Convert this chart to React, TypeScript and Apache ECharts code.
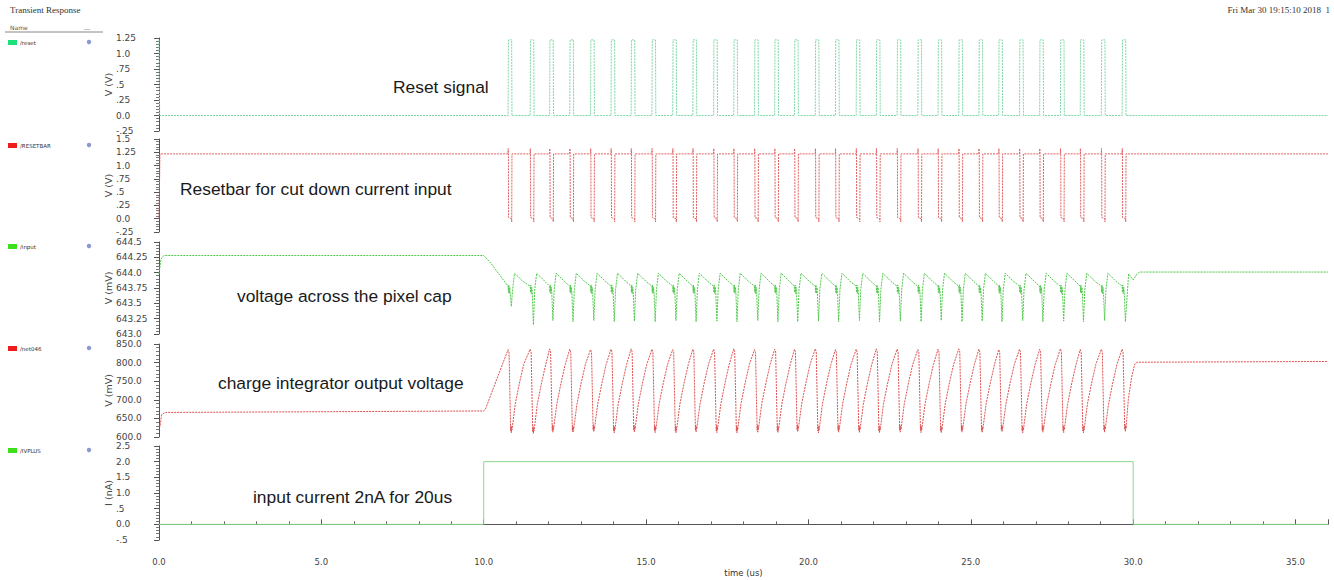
import React, { useEffect, useRef } from "react";
import * as echarts from "echarts";

// ---------- data (times in us) ----------
const pulseStarts = [
  10.75, 11.43, 12.03, 12.65, 13.29, 13.92, 14.54, 15.18, 15.82, 16.44,
  17.08, 17.70, 18.34, 18.96, 19.57, 20.21, 20.83, 21.47, 22.09, 22.73,
  23.37, 23.99, 24.63, 25.25, 25.86, 26.50, 27.12, 27.76, 28.37, 29.02, 29.66,
];
const pulseWidth = 0.12;
const logicHigh = 1.22;
const resetbarOvershoot = 1.32;
const resetbarUndershoot = -0.06;

const inputDips = [
  643.45, 643.15, 643.22, 643.2, 643.22, 643.2, 643.21, 643.2, 643.22, 643.2,
  643.21, 643.2, 643.22, 643.2, 643.2, 643.21, 643.2, 643.22, 643.2, 643.21,
  643.2, 643.22, 643.2, 643.21, 643.2, 643.22, 643.2, 643.21, 643.2, 643.22, 643.2,
];
const inputPre = [[0, 643.98], [0.06, 644.22], [0.15, 644.28], [10.0, 644.28], [10.23, 644.15], [10.45, 643.99]];
const inputBeforeDip = [[0, 643.78], [0.01, 643.68], [0.02, 643.8], [0.035, 643.66], [0.05, 643.76], [0.065, 643.68]];
const inputDipOffset = 0.1;
const inputAfterDip = [[0.14, 643.72], [0.2, 643.99], [0.32, 643.93], [0.45, 643.86]];
const inputTail = [[29.86, 643.98], [30.0, 643.88], [30.12, 643.98], [30.2, 644.01], [36, 644.01]];

const integPeaks = [
  835, 836, 837, 836, 835, 836, 837, 836, 835, 836,
  836, 837, 835, 836, 836, 837, 835, 836, 837, 836,
  835, 836, 837, 836, 835, 836, 836, 837, 835, 836, 836,
];
const integTroughs = [
  616, 614, 618, 617, 619, 616, 618, 617, 616, 618,
  617, 616, 618, 617, 619, 616, 618, 617, 616, 618,
  617, 616, 618, 617, 619, 616, 618, 617, 616, 618, 620,
];
const integPre = [[0, 632], [0.03, 628], [0.08, 660], [0.2, 666], [10.0, 670], [10.05, 674], [10.4, 755]];
const integFallOffset = 0.08;
const integTroughNoise = [[0.09, 14], [0.1, -5], [0.11, 10], [0.12, 3]];
const integRamp = [[0.22, 688], [0.35, 745], [0.48, 795]];
const integTail = [[29.85, 700], [29.95, 760], [30.05, 796], [30.12, 801], [36, 803]];

const currentData = [[0, 0], [10, 0], [10, 2], [30, 2], [30, 0], [36, 0]];

const panelNames = ["V (V)", "V (V)", "V (mV)", "V (mV)", "I (nA)"];
const yMins = [-0.25, -0.25, 643.0, 600, -0.5];
const yMaxs = [1.25, 1.5, 644.5, 850, 2.5];
const yIntervals = [0.25, 0.25, 0.25, 50, 0.5];

const legendNames = ["/reset", "/RESETBAR", "/input", "/net046", "/IVPLUS"];
const legendColors = ["#1ee07a", "#ee1c1c", "#3ee01e", "#ee1c1c", "#3ee01e"];
const traceColors = ["#7fd6a6", "#e06060", "#4fc84a", "#de5050", "#8ed98e"];

const annotations = [
  "Reset signal",
  "Resetbar for cut down current input",
  "voltage across the pixel cap",
  "charge integrator output voltage",
  "input current 2nA for 20us",
];

// ---------- layout ----------
const gridTops = [38, 139, 242, 344, 446];
const gridHeights = [93, 93, 92, 93, 94];
const legendY = [43, 146, 247, 349, 451];
const annotX = [393, 180, 237, 218, 253];
const annotY = [87, 189, 296, 383, 497];

function buildReset() {
  const d: number[][] = [[0, logicHigh], [0.02, 0]];
  pulseStarts.forEach((t) => {
    d.push([t, 0], [t + 0.01, logicHigh], [t + pulseWidth - 0.01, logicHigh], [t + pulseWidth, 0]);
  });
  d.push([36, 0]);
  return d;
}

function buildResetbar() {
  const d: number[][] = [[0, 0], [0.03, logicHigh]];
  pulseStarts.forEach((t) => {
    d.push(
      [t, logicHigh], [t + 0.004, resetbarOvershoot], [t + 0.01, logicHigh], [t + 0.015, 0.02],
      [t + pulseWidth - 0.015, 0], [t + pulseWidth - 0.008, resetbarUndershoot], [t + pulseWidth, logicHigh]
    );
  });
  d.push([36, logicHigh]);
  return d;
}

function buildInput() {
  const d: number[][] = inputPre.map((p) => [p[0], p[1]]);
  pulseStarts.forEach((t, i) => {
    inputBeforeDip.forEach((p) => d.push([t + p[0], p[1]]));
    d.push([t + inputDipOffset, inputDips[i]]);
    if (i < pulseStarts.length - 1) inputAfterDip.forEach((p) => d.push([t + p[0], p[1]]));
  });
  inputTail.forEach((p) => d.push([p[0], p[1]]));
  return d;
}

function buildInteg() {
  const d: number[][] = integPre.map((p) => [p[0], p[1]]);
  pulseStarts.forEach((t, i) => {
    const P = integPeaks[i];
    const T = integTroughs[i];
    d.push([t, P], [t + 0.03, P - 8], [t + integFallOffset, T]);
    integTroughNoise.forEach((p) => d.push([t + p[0], T + p[1]]));
    if (i < pulseStarts.length - 1) integRamp.forEach((p) => d.push([t + p[0], p[1]]));
  });
  integTail.forEach((p) => d.push([p[0], p[1]]));
  return d;
}

const fmtY = (v: number) => {
  const r = Math.round(v * 1000) / 1000;
  if (Number.isInteger(r)) return r.toFixed(1);
  if (Math.abs(r) < 1) return (r < 0 ? "-" : "") + String(Math.abs(r)).replace(/^0/, "");
  return String(r);
};

export default function App() {
  const ref = useRef<HTMLDivElement>(null);
  useEffect(() => {
    if (!ref.current) return;
    const chart = echarts.init(ref.current, undefined, { renderer: "svg" });
    const seriesData = [buildReset(), buildResetbar(), buildInput(), buildInteg(), currentData];

    const grid = gridTops.map((t, i) => ({ left: 159, right: 6, top: t, height: gridHeights[i] }));
    const xAxis = gridTops.map((_, i) => ({
      type: "value",
      gridIndex: i,
      min: 0,
      max: 36,
      interval: 5,
      show: i === 4,
      offset: 8,
      axisLine: { show: true, lineStyle: { color: "#555", width: 1 } },
      axisTick: { show: true, inside: true, length: 5, lineStyle: { color: "#555" } },
      minorTick: { show: true, splitNumber: 5, length: 3, lineStyle: { color: "#666" } },
      splitLine: { show: false },
      axisLabel: {
        formatter: (v: number) => v.toFixed(1),
        fontSize: 8.5,
        color: "#444",
        fontFamily: "DejaVu Sans",
        margin: 9,
        showMaxLabel: false,
      },
      name: i === 4 ? "time (us)" : "",
      nameLocation: "middle",
      nameGap: 20,
      nameMoveOverlap: false,
      nameTextStyle: { fontSize: 8.5, color: "#333", fontFamily: "DejaVu Sans" },
    }));
    const yAxis = gridTops.map((_, i) => ({
      type: "value",
      gridIndex: i,
      min: yMins[i],
      max: yMaxs[i],
      interval: yIntervals[i],
      offset: 6,
      axisLine: { show: true, lineStyle: { color: "#555", width: 1 } },
      axisTick: { show: true, length: 5, lineStyle: { color: "#555" } },
      minorTick: { show: true, splitNumber: 5, length: 3, lineStyle: { color: "#777" } },
      splitLine: { show: false },
      axisLabel: {
        formatter: fmtY,
        align: "left",
        margin: 37,
        fontSize: 9,
        color: "#444",
        fontFamily: "DejaVu Sans",
        showMinLabel: true,
        showMaxLabel: true,
      },
      name: panelNames[i],
      nameLocation: "middle",
      nameGap: 40,
      nameRotate: 90,
      nameMoveOverlap: false,
      nameTextStyle: { fontSize: 9.5, color: "#444", fontFamily: "DejaVu Sans" },
    }));
    const series = seriesData.map((d, i) => ({
      type: "line",
      xAxisIndex: i,
      yAxisIndex: i,
      data: d,
      showSymbol: false,
      symbol: "none",
      silent: true,
      lineStyle: { color: traceColors[i], width: 1, type: i < 4 ? [2, 1] : "solid" },
    }));

    const graphic: any[] = [
      { type: "text", x: 10, y: 5, style: { text: "Transient Response", fontSize: 9, fontFamily: "Liberation Serif", fill: "#333" } },
      { type: "text", x: 1330, y: 5, style: { text: "Fri Mar 30 19:15:10 2018  1", fontSize: 9, fontFamily: "Liberation Serif", fill: "#333", align: "right" } },
      { type: "text", x: 10, y: 24, style: { text: "Name", fontSize: 6, fontFamily: "DejaVu Sans", fill: "#555" } },
      { type: "text", x: 84, y: 22, style: { text: "__", fontSize: 6, fontFamily: "DejaVu Sans", fill: "#777" } },
      { type: "line", shape: { x1: 5, y1: 32, x2: 103, y2: 32 }, style: { stroke: "#888", lineWidth: 1 } },
    ];
    legendNames.forEach((n, i) => {
      const y = legendY[i];
      graphic.push(
        { type: "rect", shape: { x: 8, y: y - 3, width: 9, height: 5 }, style: { fill: legendColors[i] } },
        { type: "text", x: 20, y: y - 3, style: { text: n, fontSize: 5.5, fontFamily: "DejaVu Sans", fill: "#333" } },
        { type: "circle", shape: { cx: 89, cy: y - 1, r: 2.2 }, style: { fill: "#8a9ad0" } }
      );
    });
    annotations.forEach((a, i) => {
      graphic.push({
        type: "text",
        x: annotX[i],
        y: annotY[i],
        style: { text: a, fontSize: 17.4, fontFamily: "Liberation Sans", fill: "#1a1a1a", verticalAlign: "middle" },
      });
    });

    chart.setOption({
      animation: false,
      backgroundColor: "#fff",
      grid,
      xAxis,
      yAxis,
      series,
      graphic,
    } as any);
    return () => chart.dispose();
  }, []);
  return <div ref={ref} style={{ position: "absolute", left: 0, top: 0, width: 1334, height: 580 }} />;
}
